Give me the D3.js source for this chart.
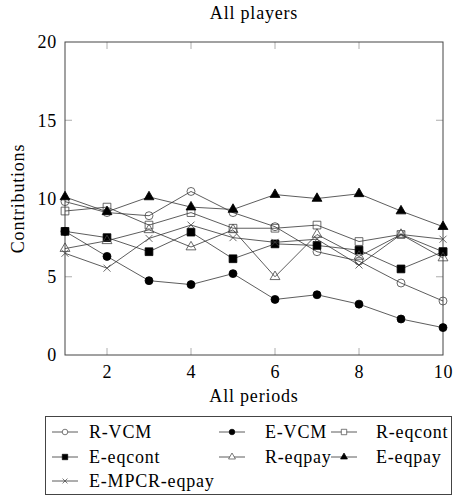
<!DOCTYPE html>
<html>
<head>
<meta charset="utf-8">
<script src="https://cdn.jsdelivr.net/npm/d3@7"></script>
<style>
  body { margin: 0; background: #fff; }
</style>
</head>
<body>
<svg id="chart"></svg>
<script>
// Data
const periods = [1, 2, 3, 4, 5, 6, 7, 8, 9, 10];
const seriesNames = ['R-VCM', 'E-VCM', 'R-eqcont', 'E-eqcont', 'R-eqpay', 'E-eqpay', 'E-MPCR-eqpay'];
const rVCM       = [9.8, 9.1, 8.9, 10.45, 9.1, 8.2, 6.6, 6.0, 4.6, 3.45];
const eVCM       = [7.9, 6.3, 4.75, 4.5, 5.2, 3.55, 3.85, 3.25, 2.3, 1.75];
const rEqcont    = [9.2, 9.45, 8.3, 9.1, 8.1, 8.1, 8.3, 7.25, 7.7, 6.6];
const eEqcont    = [7.9, 7.5, 6.6, 7.85, 6.15, 7.1, 7.0, 6.7, 5.5, 6.6];
const rEqpay     = [6.8, 7.3, 8.0, 6.9, 8.0, 5.0, 7.7, 6.3, 7.7, 6.2];
const eEqpay     = [10.1, 9.15, 10.1, 9.45, 9.3, 10.25, 10.0, 10.3, 9.2, 8.2];
const eMpcrEqpay = [6.5, 5.55, 7.45, 8.3, 7.5, 7.2, 7.4, 5.75, 7.7, 7.4];
const xTicks = [2, 4, 6, 8, 10];
const yTicks = [0, 5, 10, 15, 20];

const seriesValues = [rVCM, eVCM, rEqcont, eEqcont, rEqpay, eEqpay, eMpcrEqpay];
const markerKinds = ['circle', 'circle', 'square', 'square', 'triangle', 'triangle', 'cross'];
const markerFilled = [false, true, false, true, false, true, false];

const FONT = '"Liberation Serif", "DejaVu Serif", serif';

// apply the serif look to any text selection
function serifText(sel, size) {
  sel.style('font-family', FONT)
     .style('font-size', size + 'px')
     .style('letter-spacing', '0.8px')
     .attr('fill', '#000');
}

class LinePlot {

  constructor(_config) {
    this.config = {
      parentElement: _config.parentElement,
      containerWidth: _config.containerWidth || 453,
      containerHeight: _config.containerHeight || 496,
      margin: _config.margin || {top: 42, right: 10, bottom: 141, left: 65}
    }
    this.initVis();
  }

  initVis() {
    let vis = this;

    vis.width = vis.config.containerWidth - vis.config.margin.left - vis.config.margin.right;
    vis.height = vis.config.containerHeight - vis.config.margin.top - vis.config.margin.bottom;

    vis.xScale = d3.scaleLinear()
        .domain([1, 10])
        .range([0, vis.width]);

    vis.yScale = d3.scaleLinear()
        .domain([0, 20])
        .range([vis.height, 0]);

    vis.svg = d3.select(vis.config.parentElement)
        .attr('width', vis.config.containerWidth)
        .attr('height', vis.config.containerHeight);

    vis.chart = vis.svg.append('g')
        .attr('transform', `translate(${vis.config.margin.left},${vis.config.margin.top})`);

    // pgfplots style: ticks pointing inwards, mirrored on top / right
    const tickLen = 7;
    const inner = v => v !== 0 && v !== 10 && v !== 20;

    vis.chart.append('g')
        .attr('transform', `translate(0,${vis.height})`)
        .call(d3.axisBottom(vis.xScale).tickValues(xTicks).tickSize(0).tickPadding(10))
        .call(g => g.select('.domain').remove())
        .call(g => g.selectAll('text').call(serifText, 18));

    vis.chart.append('g')
        .call(d3.axisLeft(vis.yScale).tickValues(yTicks).tickSize(0).tickPadding(8))
        .call(g => g.select('.domain').remove())
        .call(g => g.selectAll('text').call(serifText, 18));

    const tickG = vis.chart.append('g')
        .attr('stroke', '#999')
        .attr('stroke-width', 0.8);

    xTicks.filter(inner).forEach(t => {
      tickG.append('line')
          .attr('x1', vis.xScale(t)).attr('x2', vis.xScale(t))
          .attr('y1', vis.height).attr('y2', vis.height - tickLen);
      tickG.append('line')
          .attr('x1', vis.xScale(t)).attr('x2', vis.xScale(t))
          .attr('y1', 0).attr('y2', tickLen);
    });
    yTicks.filter(inner).forEach(t => {
      tickG.append('line')
          .attr('x1', 0).attr('x2', tickLen)
          .attr('y1', vis.yScale(t)).attr('y2', vis.yScale(t));
      tickG.append('line')
          .attr('x1', vis.width).attr('x2', vis.width - tickLen)
          .attr('y1', vis.yScale(t)).attr('y2', vis.yScale(t));
    });

    // frame
    vis.chart.append('rect')
        .attr('width', vis.width)
        .attr('height', vis.height)
        .attr('fill', 'none')
        .attr('stroke', '#444')
        .attr('stroke-width', 1);

    vis.svg.append('text')
        .attr('x', vis.config.margin.left + vis.width / 2)
        .attr('y', 19)
        .attr('text-anchor', 'middle')
        .call(serifText, 18)
        .text('All players');

    vis.svg.append('text')
        .attr('x', vis.config.margin.left + vis.width / 2)
        .attr('y', vis.config.margin.top + vis.height + 47)
        .attr('text-anchor', 'middle')
        .call(serifText, 18)
        .text('All periods');

    vis.svg.append('text')
        .attr('transform', `translate(24,${vis.config.margin.top + vis.height / 2}) rotate(-90)`)
        .attr('text-anchor', 'middle')
        .call(serifText, 18)
        .text('Contributions');
  }

  markerPath(kind) {
    if (kind === 'circle') return d3.symbol(d3.symbolCircle, 50)();
    if (kind === 'square') return d3.symbol(d3.symbolSquare, 60)();
    if (kind === 'triangle') return d3.symbol(d3.symbolTriangle, 42)();
    return 'M-3.5,-3.5L3.5,3.5M-3.5,3.5L3.5,-3.5';
  }

  renderVis() {
    let vis = this;

    const line = d3.line()
        .x((d, i) => vis.xScale(periods[i]))
        .y(d => vis.yScale(d));

    seriesValues.forEach((vals, s) => {
      const g = vis.chart.append('g').attr('class', 'series');

      g.append('path')
          .attr('d', line(vals))
          .attr('fill', 'none')
          .attr('stroke', '#333')
          .attr('stroke-width', 0.8);

      g.selectAll('.mark')
          .data(vals)
        .join('path')
          .attr('class', 'mark')
          .attr('transform', (d, i) => `translate(${vis.xScale(periods[i])},${vis.yScale(d)})`)
          .attr('d', vis.markerPath(markerKinds[s]))
          .attr('fill', markerFilled[s] ? '#000' : 'none')
          .attr('stroke', markerFilled[s] ? '#000' : '#444')
          .attr('stroke-width', 0.8);
    });

    // Legend, three columns like the pgfplots legend matrix
    const legend = vis.svg.append('g');
    legend.append('rect')
        .attr('x', 45.5).attr('y', 416.5)
        .attr('width', 406).attr('height', 78)
        .attr('fill', '#fff')
        .attr('stroke', '#444')
        .attr('stroke-width', 1);

    const colX = [52, 219, 331];
    const textX = [89, 265, 376];
    const rowY = [432, 457, 481];
    seriesNames.forEach((name, s) => {
      const col = s % 3, row = Math.floor(s / 3);
      const item = legend.append('g')
          .attr('transform', `translate(0,${rowY[row]})`);
      item.append('line')
          .attr('x1', colX[col]).attr('x2', colX[col] + 26)
          .attr('stroke', '#333')
          .attr('stroke-width', 0.8);
      item.append('path')
          .attr('transform', `translate(${colX[col] + 13},0) scale(0.7)`)
          .attr('d', vis.markerPath(markerKinds[s]))
          .attr('fill', markerFilled[s] ? '#000' : '#fff')
          .attr('stroke', markerFilled[s] ? '#000' : '#444')
          .attr('stroke-width', 1);
      item.append('text')
          .attr('x', textX[col])
          .attr('dy', '0.35em')
          .call(serifText, 18)
          .text(name);
    });
  }
}

const plot = new LinePlot({parentElement: '#chart'});
plot.renderVis();
</script>
</body>
</html>
